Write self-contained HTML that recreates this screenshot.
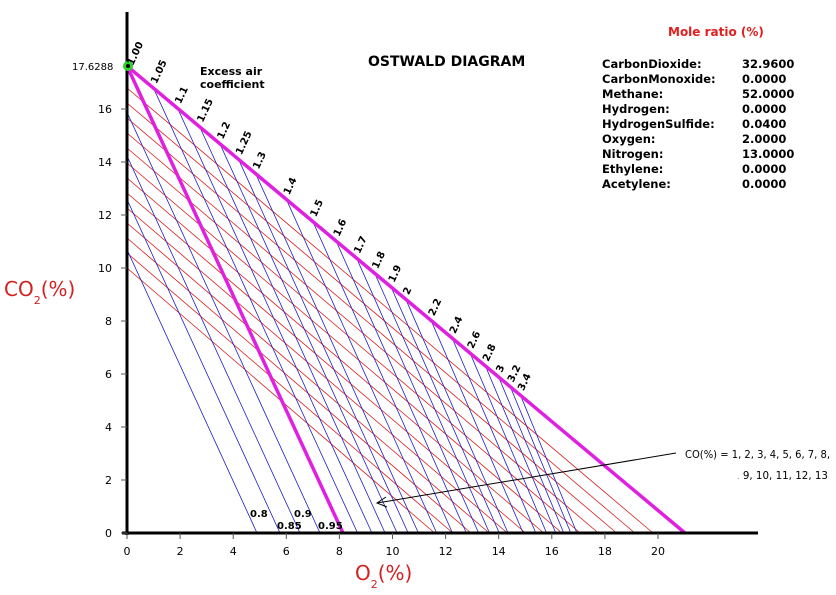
<!DOCTYPE html>
<html><head><meta charset="utf-8"><style>
body{margin:0;background:#fff;}
svg{display:block;font-family:"DejaVu Sans","Liberation Sans",sans-serif;}
</style></head><body>
<svg id="s" width="836" height="595" viewBox="0 0 836 595" xmlns="http://www.w3.org/2000/svg">
<g id="red" stroke="#d42020" stroke-width="0.8" fill="none"></g>
<g id="blue" stroke="#2020c0" stroke-width="0.8" fill="none"></g>
<line x1="127" y1="66" x2="685" y2="533" stroke="#e020e0" stroke-width="3.5"/>
<line x1="127" y1="66" x2="343" y2="533" stroke="#e020e0" stroke-width="3.5"/>
<line x1="127" y1="12" x2="127" y2="535" stroke="#000" stroke-width="3"/>
<line x1="122" y1="533" x2="758" y2="533" stroke="#000" stroke-width="3"/>
<g id="ticks" stroke="#555" stroke-width="1"></g>
<g id="tl" font-size="11" fill="#000"></g>
<circle cx="128" cy="66" r="5" fill="#30d030"/><circle cx="128" cy="66" r="2" fill="#000"/>
<text x="72" y="70" font-size="10">17.6288</text>
<g id="lab" font-size="10" font-weight="bold" fill="#000"></g>
<text x="200" y="75" font-size="11" font-weight="bold">Excess air</text>
<text x="200" y="88" font-size="11" font-weight="bold">coefficient</text>
<text x="368" y="66" font-size="14" font-weight="bold">OSTWALD DIAGRAM</text>
<text x="668" y="36" font-size="12" font-weight="bold" fill="#e02020">Mole ratio (%)</text>
<g font-size="11.5" font-weight="bold" fill="#000">
<text x="602" y="68">CarbonDioxide:</text><text x="742" y="68">32.9600</text>
<text x="602" y="83">CarbonMonoxide:</text><text x="742" y="83">0.0000</text>
<text x="602" y="98">Methane:</text><text x="742" y="98">52.0000</text>
<text x="602" y="113">Hydrogen:</text><text x="742" y="113">0.0000</text>
<text x="602" y="128">HydrogenSulfide:</text><text x="742" y="128">0.0400</text>
<text x="602" y="143">Oxygen:</text><text x="742" y="143">2.0000</text>
<text x="602" y="158">Nitrogen:</text><text x="742" y="158">13.0000</text>
<text x="602" y="173">Ethylene:</text><text x="742" y="173">0.0000</text>
<text x="602" y="188">Acetylene:</text><text x="742" y="188">0.0000</text>
</g>
<line x1="676" y1="453" x2="377" y2="503" stroke="#000" stroke-width="1"/>
<polyline points="386,497 377,503 387,507" fill="none" stroke="#000" stroke-width="1"/>
<text x="685" y="458" font-size="10.3" textLength="145" lengthAdjust="spacingAndGlyphs">CO(%) = 1, 2, 3, 4, 5, 6, 7, 8,</text>
<text x="737" y="479" font-size="10.3"><tspan fill="#3a3" font-size="8">.</tspan> 9, 10, 11, 12, 13</text>
<text x="4" y="296" font-size="20" fill="#d42020">CO<tspan font-size="11" dy="8">2</tspan><tspan dy="-8">(%)</tspan></text>
<text x="355" y="580" font-size="20" fill="#d42020">O<tspan font-size="11" dy="8">2</tspan><tspan dy="-8">(%)</tspan></text>
<g font-size="10" font-weight="bold">
<text x="250" y="517">0.8</text><text x="277" y="529">0.85</text><text x="294" y="517">0.9</text><text x="318" y="529">0.95</text>
</g>
</svg>
<script>
var NS="http://www.w3.org/2000/svg";
function L(g,x1,y1,x2,y2){var l=document.createElementNS(NS,"line");l.setAttribute("x1",x1);l.setAttribute("y1",y1);l.setAttribute("x2",x2);l.setAttribute("y2",y2);document.getElementById(g).appendChild(l);}
function T(g,x,y,t,rot,anchor){var e=document.createElementNS(NS,"text");e.setAttribute("x",x);e.setAttribute("y",y);if(anchor)e.setAttribute("text-anchor",anchor);if(rot)e.setAttribute("transform","rotate("+rot+" "+x+" "+y+")");e.textContent=t;document.getElementById(g).appendChild(e);}
for(var i=0;i<13;i++){L("red",127,88+15*i,653-18.2*i,533);}
var S=2.18;
[257,280,300,320].forEach(function(xe){L("blue",127,533-S*(xe-127),xe,533);});
var lams=[1.05,1.1,1.15,1.2,1.25,1.3,1.4,1.5,1.6,1.7,1.8,1.9,2,2.2,2.4,2.6,2.8,3,3.2,3.4];
lams.forEach(function(l){var x=127+26.55*21*(l-1)/l;var y=66+0.837*(x-127);var s=2.18+(l-1.05)*0.26/2.35;L("blue",x,y,x+(533-y)/s,533);T("lab",x+3,y-4,String(l),-65,null);});
T("lab",133,66,"1.00",-65,null);
for(var k=0;k<=10;k++){var x=127+53.1*k;L("ticks",x,533,x,539);T("tl",x,555,String(2*k),0,"middle");}
for(var k=1;k<=8;k++){var y=533-26.5*2*k;L("ticks",121,y,127,y);T("tl",112,y+4,String(2*k),0,"end");}
L("ticks",121,533,127,533);T("tl",112,537,"0",0,"end");
</script>
</body></html>
